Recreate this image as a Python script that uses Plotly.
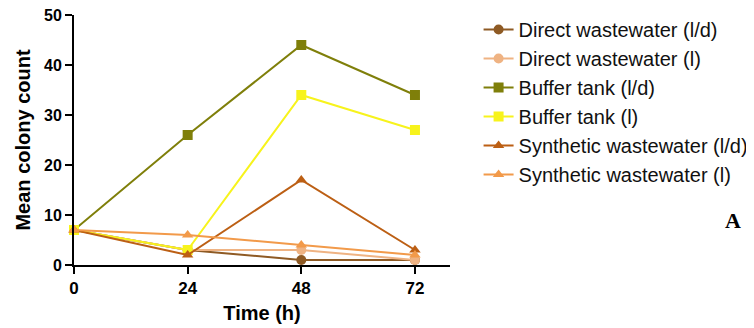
import plotly.graph_objects as go

times = [0, 24, 48, 72]
series_names = [
    "Direct wastewater (l/d)",
    "Direct wastewater (l)",
    "Buffer tank (l/d)",
    "Buffer tank (l)",
    "Synthetic wastewater (l/d)",
    "Synthetic wastewater (l)",
]
direct_ld = [7, 3, 1, 1]
direct_l = [7, 3, 3, 1]
buffer_ld = [7, 26, 44, 34]
buffer_l = [7, 3, 34, 27]
synth_ld = [7, 2, 17, 3]
synth_l = [7, 6, 4, 2]
y_ticks = [0, 10, 20, 30, 40, 50]

values = [direct_ld, direct_l, buffer_ld, buffer_l, synth_ld, synth_l]
colors = ["#8E5A24", "#EFB383", "#7F7F0A", "#F7F31C", "#BC5F14", "#F29A4A"]
symbols = ["circle", "circle", "square", "square", "triangle-up", "triangle-up"]

fig = go.Figure()
for i, (name, vals) in enumerate(zip(series_names, values)):
    fig.add_trace(go.Scatter(
        x=times, y=vals, name=name, mode="lines+markers",
        line=dict(color=colors[i], width=2),
        marker=dict(color=colors[i], symbol=symbols[i], size=10),
        legendgroup=f"g{i}", cliponaxis=False,
    ))

FONT = "Liberation Sans, Arial, sans-serif"
fig.update_layout(
    width=746, height=320,
    margin=dict(l=66, r=304, t=7, b=63, autoexpand=False),
    plot_bgcolor="white", paper_bgcolor="white",
    font=dict(family=FONT, color="black"),
    showlegend=True,
    legend=dict(x=1.076, y=1.02, xanchor="left", yanchor="top", maxheight=400,
                font=dict(size=20, color="#111", family=FONT), tracegroupgap=0,
                bgcolor="rgba(0,0,0,0)"),
    xaxis=dict(range=[0, 79.4], tickvals=times, ticktext=[str(t) for t in times],
               showgrid=False, zeroline=False, showline=True, linecolor="black",
               linewidth=2, ticks="outside", ticklen=7, tickwidth=2, tickcolor="black",
               tickfont=dict(size=17, weight="bold"), ticklabeloverflow="allow",
               title=dict(text="<b>Time (h)</b>", font=dict(size=20), standoff=9)),
    yaxis=dict(range=[0, 50], tickvals=y_ticks,
               showgrid=False, zeroline=False, showline=True, linecolor="black",
               linewidth=2, ticks="outside", ticklen=7, tickwidth=2, tickcolor="black",
               tickfont=dict(size=16, weight="bold"), ticklabeloverflow="allow",
               title=dict(text="<b>Mean colony count</b>", font=dict(size=20), standoff=8)),
)
fig.add_annotation(text="<b>A</b>", xref="paper", yref="paper",
                   x=(725 - 66) / 376, y=(257 - 212) / 250, showarrow=False,
                   xanchor="center", yanchor="middle",
                   font=dict(family="Liberation Serif", size=22, color="black"))
fig.write_html("out.html")
